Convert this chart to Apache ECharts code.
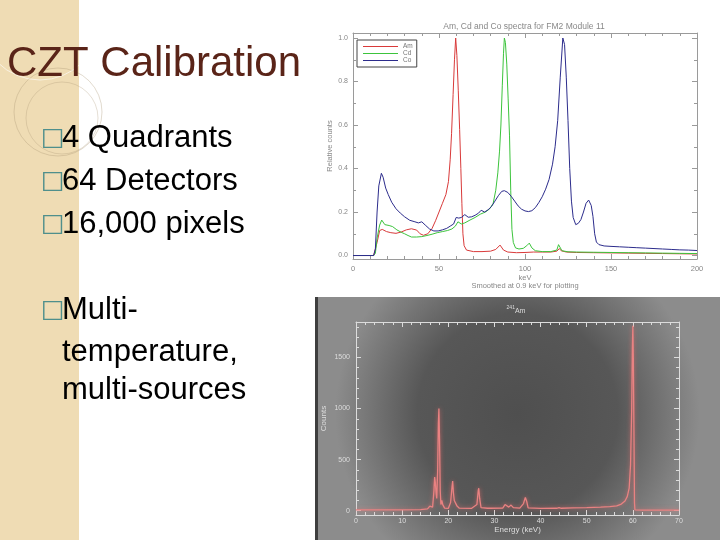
<!DOCTYPE html>
<html>
<head>
<meta charset="utf-8">
<script src="https://cdn.jsdelivr.net/npm/echarts@6/dist/echarts.min.js"></script>
<style>html,body{margin:0;padding:0;background:#fff;}#c{width:720px;height:540px;}</style>
</head>
<body>
<div id="c"></div>
<script>
// ---- Top chart: Am, Cd, Co relative spectra ----
const amE = [0,12,13,14,15.5,17,19.5,22,25,28,31,34,37,39,41,43.5,46,48,50,52,54,55.5,56.5,57.3,58.2,59,59.7,60.4,61.2,62,62.7,63.3,63.9,64.6,66,70,75,80,83,85.5,87.5,90,95,100,105,110,115,118.5,120,121,124,130,140,150,160,170,180,190,200];
const amV = [0,0,0.005,0.06,0.115,0.12,0.11,0.105,0.102,0.108,0.118,0.123,0.117,0.1,0.093,0.1,0.125,0.16,0.2,0.24,0.28,0.34,0.44,0.56,0.74,0.9,1.0,0.92,0.76,0.58,0.4,0.24,0.1,0.045,0.025,0.018,0.018,0.02,0.028,0.048,0.025,0.016,0.013,0.014,0.016,0.016,0.016,0.02,0.032,0.022,0.016,0.014,0.013,0.012,0.011,0.01,0.009,0.008,0.007];
const cdE = [0,12,13,14,15.5,16.7,17.5,18.5,19.5,21,23,25.5,28,30,32,34,37,40,43,46,49,52,55,57.5,59.5,61,62,63,65,68,71,74,77,79.5,81.5,83,84.2,85.2,86,86.8,87.5,88,88.6,89.4,90.2,91,91.7,92.4,93.2,94.5,96.5,99,101,102.5,104,106,110,115,118.5,119.5,120.5,121.5,125,130,140,150,160,170,180,190,200];
const cdV = [0,0,0.01,0.08,0.14,0.163,0.155,0.142,0.15,0.138,0.133,0.118,0.107,0.1,0.092,0.085,0.085,0.087,0.092,0.098,0.105,0.11,0.115,0.122,0.135,0.155,0.163,0.145,0.15,0.163,0.175,0.19,0.2,0.215,0.24,0.3,0.38,0.48,0.6,0.78,0.93,1.0,0.98,0.88,0.72,0.55,0.3,0.12,0.06,0.035,0.03,0.033,0.045,0.057,0.035,0.022,0.018,0.018,0.025,0.05,0.042,0.022,0.017,0.016,0.015,0.014,0.013,0.012,0.011,0.01,0.009];
const coE = [0,12,13,14,15,16.5,17.5,19,20.5,22.5,25,27.5,30,33,36,38,40,42,44.5,47,49.5,52,54.5,56.5,58.5,60,61.5,63,65,67,69,71,73,74.5,76.5,78.5,80.5,82.5,84.5,86.5,88,90,92,94,96,98,100,102,104,106,108,110,112,114,116,117.5,119,120.5,122,123,124,125,126,127,128,129.5,131,132.5,134,135.5,137,138.5,139.5,140.5,141.5,143,146,150,155,160,165,170,175,180,185,190,195,200];
const coV = [0,0,0.03,0.2,0.32,0.378,0.36,0.31,0.28,0.245,0.215,0.195,0.178,0.162,0.155,0.15,0.155,0.14,0.122,0.113,0.113,0.118,0.125,0.135,0.145,0.175,0.172,0.175,0.188,0.176,0.178,0.185,0.195,0.208,0.2,0.21,0.225,0.25,0.275,0.295,0.298,0.29,0.272,0.25,0.228,0.213,0.205,0.202,0.206,0.22,0.243,0.27,0.305,0.35,0.42,0.5,0.62,0.82,1.0,0.97,0.82,0.62,0.4,0.25,0.175,0.142,0.148,0.165,0.2,0.24,0.255,0.23,0.18,0.1,0.062,0.05,0.044,0.042,0.04,0.038,0.036,0.034,0.032,0.03,0.028,0.026,0.025,0.023];
const topXTicks = [0,50,100,150,200];
const topYTicks = [0.0,0.2,0.4,0.6,0.8,1.0];

// ---- Bottom chart: 241Am spectrum (counts) ----
const amSpecE = [0,5,10,14,15.5,16,16.3,16.6,16.9,17.05,17.2,17.35,17.5,17.7,17.85,17.97,18.1,18.25,18.4,18.6,18.8,19.2,20,20.5,20.8,20.95,21.1,21.3,21.6,21.9,22.4,25,26.2,26.5,26.6,26.8,27.1,28.5,28.9,29.2,31.8,32.3,32.6,33.1,33.6,34.1,35.5,36.3,36.7,37.0,37.3,40,43.5,44,44.5,47,50,53,55,56.5,57.5,58.3,58.8,59.2,59.5,59.75,59.9,60.0,60.1,60.25,60.35,60.45,62,65,70];
const amSpecC = [8,8,8,10,18,45,60,35,200,330,270,180,120,400,850,1000,700,200,60,100,60,25,22,80,230,290,180,100,90,45,25,22,60,200,220,120,30,24,40,24,25,60,50,35,55,30,25,70,130,90,28,22,24,30,24,27,30,35,40,48,65,95,140,220,450,1000,1600,1810,1500,700,80,8,6,6,6];
const botXTicks = [0,10,20,30,40,50,60,70];
const botYTicks = [0,500,1000,1500];

// ---- Slide text ----
const slideTitle = 'CZT Calibration';
const bulletLines = ['4 Quadrants', '64 Detectors', '16,000 pixels', 'Multi-'];
const continuationLines = ['temperature,', 'multi-sources'];

const zip = (a, b) => a.map((v, i) => [v, b[i]]);

const chart = echarts.init(document.getElementById('c'), null, {renderer: 'canvas'});

const topAxisColor = '#9a9a9a';
const botAxisColor = '#dcdcdc';
const FONT = 'Liberation Sans';

function xAx(grid, min, max, interval, color, opts) {
  return Object.assign({
    type: 'value', gridIndex: grid, min: min, max: max, interval: interval,
    axisLine: {show: true, onZero: false, lineStyle: {color: color, width: 1}},
    axisTick: {show: true, inside: true, length: 5, lineStyle: {color: color}},
    minorTick: {show: true, splitNumber: 5, length: 3, lineStyle: {color: color}},
    splitLine: {show: false}
  }, opts);
}

const bulletY = [138, 181, 224, 310];
const contY = [352, 390];
const bulletGraphics = [];
bulletLines.forEach((t, i) => {
  bulletGraphics.push({type: 'text', x: 41, y: bulletY[i], style: {text: '\u25A1', fill: '#4f8f8c', font: '25px "DejaVu Sans"', verticalAlign: 'middle'}});
  bulletGraphics.push({type: 'text', x: 62, y: bulletY[i], style: {text: t, fill: '#000', font: '31px "Liberation Sans"', verticalAlign: 'middle'}});
});
continuationLines.forEach((t, i) => {
  bulletGraphics.push({type: 'text', x: 62, y: contY[i], style: {text: t, fill: '#000', font: '31px "Liberation Sans"', verticalAlign: 'middle'}});
});

const option = {
  backgroundColor: '#ffffff',
  animation: false,
  textStyle: {fontFamily: FONT},
  grid: [
    {left: 353, right: 23, top: 33, bottom: 281},
    {left: 356, right: 41, top: 322, bottom: 25}
  ],
  legend: {
    data: ['Am', 'Cd', 'Co'],
    left: 357, top: 40, orient: 'vertical',
    icon: 'rect', itemWidth: 35, itemHeight: 1, itemGap: 0,
    borderColor: '#444', borderWidth: 1, padding: [3, 4, 3, 6],
    textStyle: {fontSize: 6.5, color: '#777', fontFamily: FONT}
  },
  xAxis: [
    xAx(0, 0, 200, 50, topAxisColor, {
      position: 'bottom',
      axisLabel: {color: '#888', fontSize: 7.5, margin: 6, fontFamily: FONT},
      name: 'keV\nSmoothed at 0.9 keV for plotting', nameLocation: 'middle', nameGap: 13,
      nameTextStyle: {color: '#888', fontSize: 7.5, lineHeight: 8, fontFamily: FONT}
    }),
    xAx(0, 0, 200, 50, topAxisColor, {position: 'top', axisLabel: {show: false}}),
    xAx(1, 0, 70, 10, botAxisColor, {
      position: 'bottom',
      axisLabel: {color: '#dddddd', fontSize: 7, margin: 3, fontFamily: FONT},
      name: 'Energy (keV)', nameLocation: 'middle', nameGap: 9,
      nameTextStyle: {color: '#dddddd', fontSize: 8, fontFamily: FONT}
    }),
    xAx(1, 0, 70, 10, botAxisColor, {position: 'top', axisLabel: {show: false}})
  ],
  yAxis: [
    {
      type: 'value', gridIndex: 0, min: -0.016, max: 1.023, position: 'left',
      axisLine: {show: true, onZero: false, lineStyle: {color: topAxisColor}},
      axisTick: {show: true, inside: true, length: 5, lineStyle: {color: topAxisColor}},
      minorTick: {show: true, splitNumber: 2, length: 3, lineStyle: {color: topAxisColor}},
      splitLine: {show: false},
      axisLabel: {color: '#888', fontSize: 7, margin: 5, showMinLabel: false, showMaxLabel: false,
        fontFamily: FONT,
        formatter: v => topYTicks.some(t => Math.abs(t - v) < 1e-6) ? v.toFixed(1) : ''},
      name: 'Relative counts', nameLocation: 'middle', nameGap: 15,
      nameTextStyle: {color: '#888', fontSize: 7.5, fontFamily: FONT}
    },
    {
      type: 'value', gridIndex: 0, min: -0.016, max: 1.023, position: 'right',
      axisLine: {show: true, onZero: false, lineStyle: {color: topAxisColor}},
      axisTick: {show: true, inside: true, length: 5, lineStyle: {color: topAxisColor}},
      minorTick: {show: true, splitNumber: 2, length: 3, lineStyle: {color: topAxisColor}},
      splitLine: {show: false}, axisLabel: {show: false}
    },
    {
      type: 'value', gridIndex: 1, min: -42, max: 1847, splitNumber: 4, position: 'left',
      axisLine: {show: true, onZero: false, lineStyle: {color: botAxisColor}},
      axisTick: {show: true, inside: true, length: 5, lineStyle: {color: botAxisColor}},
      minorTick: {show: true, splitNumber: 5, length: 3, lineStyle: {color: botAxisColor}},
      splitLine: {show: false},
      axisLabel: {color: '#dddddd', fontSize: 7, margin: 6, showMinLabel: false, showMaxLabel: false,
        fontFamily: FONT,
        formatter: v => botYTicks.indexOf(v) >= 0 ? String(v) : ''},
      name: 'Counts', nameLocation: 'middle', nameGap: 28,
      nameTextStyle: {color: '#dddddd', fontSize: 8, fontFamily: FONT}
    },
    {
      type: 'value', gridIndex: 1, min: -42, max: 1847, splitNumber: 4, position: 'right',
      axisLine: {show: true, onZero: false, lineStyle: {color: botAxisColor}},
      axisTick: {show: true, inside: true, length: 5, lineStyle: {color: botAxisColor}},
      minorTick: {show: true, splitNumber: 5, length: 3, lineStyle: {color: botAxisColor}},
      splitLine: {show: false}, axisLabel: {show: false}
    }
  ],
  series: [
    {name: 'Am', type: 'line', xAxisIndex: 0, yAxisIndex: 0, data: zip(amE, amV), showSymbol: false,
      lineStyle: {color: '#d93a3a', width: 1}, itemStyle: {color: '#d93a3a'}},
    {name: 'Cd', type: 'line', xAxisIndex: 0, yAxisIndex: 0, data: zip(cdE, cdV), showSymbol: false,
      lineStyle: {color: '#3cc43c', width: 1}, itemStyle: {color: '#3cc43c'}},
    {name: 'Co', type: 'line', xAxisIndex: 0, yAxisIndex: 0, data: zip(coE, coV), showSymbol: false,
      lineStyle: {color: '#2c2c8c', width: 1}, itemStyle: {color: '#2c2c8c'}},
    {name: '241Am', type: 'line', xAxisIndex: 2, yAxisIndex: 2, data: zip(amSpecE, amSpecC), showSymbol: false,
      lineStyle: {color: '#e98282', width: 1.3, shadowBlur: 4, shadowColor: 'rgba(255,110,110,0.7)'}}
  ],
  graphic: [
    // left decorative strip
    {type: 'rect', z: -10, shape: {x: 0, y: 0, width: 79, height: 540}, style: {fill: '#efdcb4'}},
    {type: 'circle', z: -9, shape: {cx: 58, cy: 112, r: 44}, style: {fill: 'none', stroke: 'rgba(170,150,115,0.35)', lineWidth: 1}},
    {type: 'circle', z: -9, shape: {cx: 62, cy: 118, r: 36}, style: {fill: 'none', stroke: 'rgba(170,150,115,0.3)', lineWidth: 1}},
    {type: 'circle', z: -9, shape: {cx: 40, cy: 20, r: 60}, style: {fill: 'none', stroke: 'rgba(255,255,255,0.6)', lineWidth: 1}},
    // bottom chart panel
    {type: 'rect', z: -10, shape: {x: 315, y: 297, width: 405, height: 243},
      style: {fill: {type: 'radial', x: 0.5, y: 0.48, r: 0.75, colorStops: [
        {offset: 0, color: '#4f4f4f'}, {offset: 0.55, color: '#575757'}, {offset: 1, color: '#8c8c8c'}]}}},
    {type: 'rect', z: -9, shape: {x: 315, y: 297, width: 3, height: 243}, style: {fill: '#3e3e3e'}},
    // slide title
    {type: 'text', x: 7, y: 64, style: {text: slideTitle, fill: '#5a2418', font: '42px "Liberation Sans"', verticalAlign: 'middle'}},
    ...bulletGraphics,
    // chart titles
    {type: 'text', x: 524, y: 27, style: {text: 'Am, Cd and Co spectra for FM2 Module 11', fill: '#888', font: '8.5px "Liberation Sans"', align: 'center', verticalAlign: 'middle'}},
    {type: 'text', x: 516, y: 310, style: {text: '{s|241}{n|Am}', align: 'center', verticalAlign: 'middle',
      rich: {s: {fontSize: 5, fill: '#dddddd', verticalAlign: 'top', lineHeight: 10, fontFamily: FONT},
             n: {fontSize: 7, fill: '#dddddd', verticalAlign: 'bottom', lineHeight: 10, fontFamily: FONT}}}}
  ]
};
chart.setOption(option);
</script>
</body>
</html>
